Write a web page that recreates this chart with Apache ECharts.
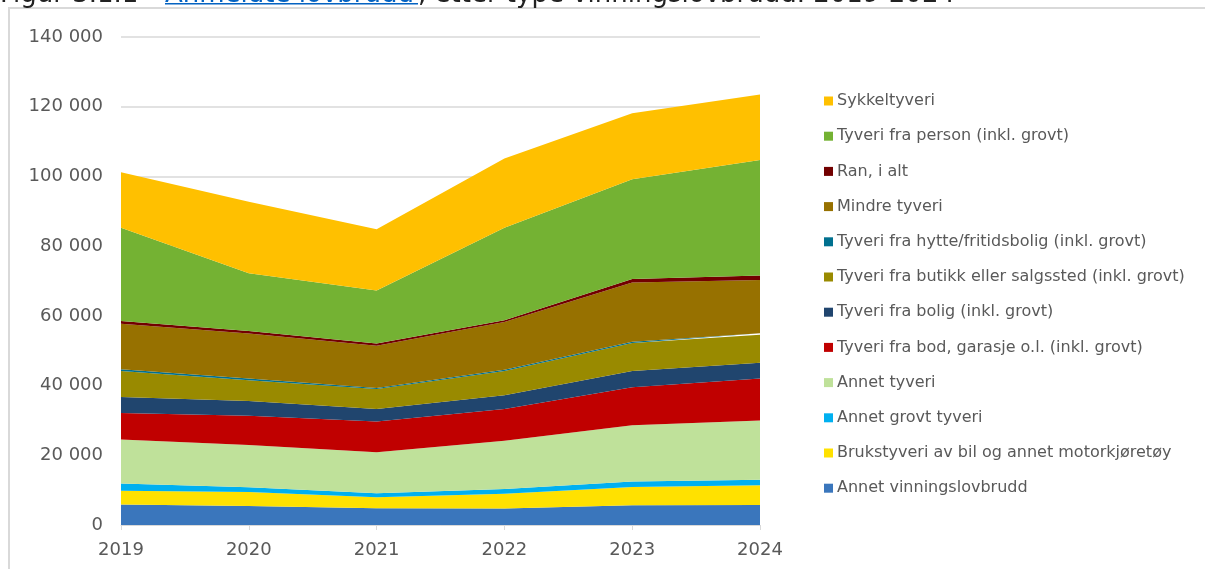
<!DOCTYPE html>
<html>
<head>
<meta charset="utf-8">
<script src="https://cdn.jsdelivr.net/npm/echarts@6/dist/echarts.min.js"></script>
<style>
  html, body { margin: 0; padding: 0; background: #fff; }
  #chart { width: 1205px; height: 569px; }
</style>
</head>
<body>
<div id="chart"></div>
<script>
// Vinningslovbrudd etter type, 2019-2024 (anmeldte)
const years = ['2019', '2020', '2021', '2022', '2023', '2024'];
const yTicks = [0, 20000, 40000, 60000, 80000, 100000, 120000, 140000];

const annetVinning = [5900, 5450, 4800, 4700, 5650, 5750];
const brukstyveri = [3900, 4000, 3150, 4300, 5250, 5650];
const annetGrovt = [2100, 1400, 1150, 1350, 1550, 1550];
const annetTyveri = [12600, 12100, 11800, 13800, 16150, 17000];
const bodGarasje = [7600, 8400, 8800, 9100, 10900, 12100];
const bolig = [4600, 4200, 3550, 4000, 4700, 4500];
const butikk = [7500, 6000, 5750, 6900, 8000, 8000];
const hytte = [500, 500, 300, 400, 400, 450];
const mindre = [13000, 12900, 12150, 13700, 17000, 15300];
const ran = [800, 700, 600, 500, 1000, 1300];
const person = [26800, 16600, 15200, 26500, 28600, 33100];
const sykkel = [15900, 20500, 17600, 19900, 18900, 18800];

const seriesNames = [
  'Annet vinningslovbrudd',
  'Brukstyveri av bil og annet motorkjøretøy',
  'Annet grovt tyveri',
  'Annet tyveri',
  'Tyveri fra bod, garasje o.l. (inkl. grovt)',
  'Tyveri fra bolig (inkl. grovt)',
  'Tyveri fra butikk eller salgssted (inkl. grovt)',
  'Tyveri fra hytte/fritidsbolig (inkl. grovt)',
  'Mindre tyveri',
  'Ran, i alt',
  'Tyveri fra person (inkl. grovt)',
  'Sykkeltyveri'
];
const seriesValues = [annetVinning, brukstyveri, annetGrovt, annetTyveri, bodGarasje,
  bolig, butikk, hytte, mindre, ran, person, sykkel];
const seriesColors = ['#3A76BC', '#FFE100', '#00B0F0', '#BFE19A', '#C00000', '#20456E',
  '#998A00', '#00708F', '#977100', '#720000', '#74B233', '#FFC000'];

const labelColor = '#595959';
const font = 'DejaVu Sans';

function fmtThousands(v) {
  return String(v).replace(/\B(?=(\d{3})+(?!\d))/g, ' ');
}

const chart = echarts.init(document.getElementById('chart'));

chart.setOption({
  animation: false,
  textStyle: { fontFamily: font },
  grid: { left: 121, right: 445, top: 37, bottom: 44 },
  legend: {
    orient: 'vertical',
    left: 819,
    top: 88,
    itemWidth: 9,
    itemHeight: 9,
    itemGap: 19.2,
    icon: 'rect',
    data: seriesNames.slice().reverse(),
    textStyle: { fontFamily: font, fontSize: 16, color: labelColor, padding: [0, 0, 0, -1] }
  },
  xAxis: {
    type: 'category',
    data: years,
    boundaryGap: false,
    axisLine: { lineStyle: { color: '#D9D9D9', width: 1 } },
    axisTick: { show: true, length: 5, lineStyle: { color: '#D9D9D9' } },
    axisLabel: { fontFamily: font, fontSize: 18, color: labelColor, margin: 16 }
  },
  yAxis: {
    type: 'value',
    min: yTicks[0],
    max: yTicks[yTicks.length - 1],
    interval: 20000,
    axisLine: { show: false },
    axisTick: { show: false },
    axisLabel: { fontFamily: font, fontSize: 18, color: labelColor, margin: 18, formatter: fmtThousands },
    splitLine: { lineStyle: { color: '#D9D9D9', width: 1.5 } }
  },
  series: seriesNames.map((name, i) => ({
    name: name,
    type: 'line',
    stack: 'total',
    data: seriesValues[i],
    symbol: 'none',
    lineStyle: { width: 0 },
    itemStyle: { color: seriesColors[i] },
    areaStyle: { color: seriesColors[i], opacity: 1 },
    z: 2
  })),
  graphic: [
    // ramme rundt figuren
    {
      type: 'rect',
      shape: { x: 9, y: 8, width: 1300, height: 700 },
      style: { fill: 'none', stroke: '#D9D9D9', lineWidth: 2 },
      silent: true
    },
    // avkuttet tittel øverst
    {
      type: 'text',
      x: 0, y: -5,
      style: { text: 'Figur 3.1.1', fontFamily: font, fontSize: 26, fill: '#222', verticalAlign: 'middle' }
    },
    {
      type: 'text',
      x: 165, y: -5,
      style: { text: 'Anmeldte lovbrudd', fontFamily: font, fontSize: 26, fill: '#0563C1', verticalAlign: 'middle' }
    },
    {
      type: 'rect',
      shape: { x: 165, y: 3, width: 253, height: 1.5 },
      style: { fill: '#0563C1' }
    },
    {
      type: 'text',
      x: 418, y: -5,
      style: { text: ', etter type vinningslovbrudd. 2019-2024', fontFamily: font, fontSize: 26, fill: '#222', verticalAlign: 'middle' }
    }
  ]
});
</script>
</body>
</html>
